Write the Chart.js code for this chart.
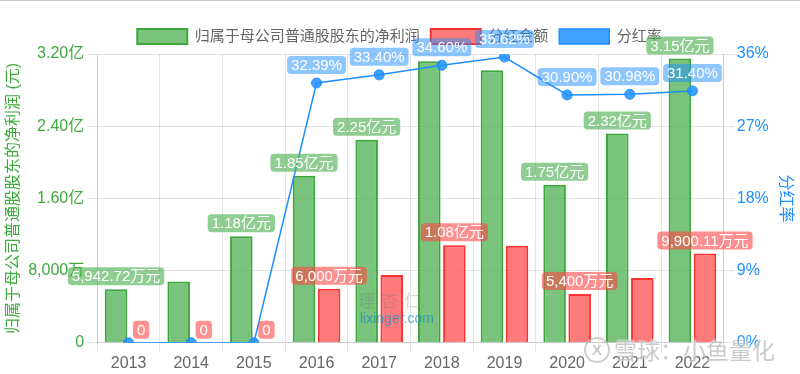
<!DOCTYPE html>
<html>
<head>
<meta charset="utf-8">
<script src="https://cdn.jsdelivr.net/npm/chart.js@4.4.0/dist/chart.umd.min.js"></script>
<style>
  html, body { margin: 0; padding: 0; background: #fff; }
  #wrap { position: relative; width: 800px; height: 373px; border-top: 1px solid #c8c8c8; }
  .wm { position: absolute; font-family: "Noto Sans CJK SC", sans-serif; pointer-events: none; white-space: nowrap; }
  .xq-icon { position: absolute; left: 584px; top: 336px; width: 22px; height: 22px; border: 2px solid rgba(190,190,190,0.75);
             border-radius: 50%; color: rgba(190,190,190,0.85); font: bold 15px Arial, sans-serif; text-align: center; line-height: 22px; }
</style>
</head>
<body>
<div id="wrap">
  <canvas id="incomeChart" width="800" height="373"></canvas>
  <div class="wm" style="left:358px;top:286px;font-size:17px;color:rgba(110,110,110,0.28);letter-spacing:6px;">理杏仁</div>
  <div class="wm" style="left:360px;top:309px;font-size:14px;color:rgba(40,140,185,0.75);font-family:Arial,sans-serif;">lixinger.com</div>
  <div class="xq-icon">X</div>
  <div class="wm" style="left:614px;top:331px;font-size:23px;color:rgba(185,185,185,0.75);text-shadow:0 0 2px #fff;">雪球：小鱼量化</div>
</div>
<script>
const years = ['2013', '2014', '2015', '2016', '2017', '2018', '2019', '2020', '2021', '2022'];
// 归属于母公司普通股股东的净利润 (元)
const netProfit = [59427200, 68000000, 118000000, 185000000, 225000000, 312000000, 302000000, 175000000, 232000000, 315000000];
// 分红金额 (元)
const dividend = [0, 0, 0, 60000000, 75150000, 108000000, 107600000, 54000000, 71900000, 99001100];
// 分红率 (%)
const payoutRatio = [0, 0, 0, 32.39, 33.40, 34.60, 35.62, 30.90, 30.98, 31.40];

// which value labels survive the overlap filtering in the original
const showProfitLabel = [true, false, true, true, true, false, false, true, true, true];
const showDividendLabel = [true, true, true, true, false, true, false, true, false, true];
const showRatioLabel = [false, false, false, true, true, true, true, true, true, true];

const leftTicks = { max: 320000000, step: 80000000 };
const rightTicks = { max: 36, step: 9 };

const GREEN = 'rgb(62,170,62)';
const BLUE = 'rgb(30,144,255)';
const FONT = 'Arial, "Liberation Sans", "Noto Sans CJK SC", sans-serif';

const fmtMoney = v => {
    if (v === 0) return '0';
    if (v >= 1e8) return (v / 1e8).toFixed(2) + '亿元';
    return (v / 1e4).toLocaleString('en-US', { maximumFractionDigits: 2 }) + '万元';
};

const fmtAxis = v => {
    if (v === 0) return '0';
    if (v >= 1e8) return (v / 1e8).toFixed(2) + '亿';
    return (v / 1e4).toLocaleString('en-US') + '万';
};

// Draw the rounded value boxes (stand-in for chartjs-plugin-datalabels)
const valueLabels = {
    id: 'valueLabels',
    afterDatasetsDraw(chart) {
        const ctx = chart.ctx;
        const setups = [
            { idx: 0, show: showProfitLabel, text: fmtMoney, bg: 'rgba(76,175,80,0.62)', gap: 4 },
            { idx: 1, show: showDividendLabel, text: fmtMoney, bg: 'rgba(255,70,70,0.6)', gap: 4 },
            { idx: 2, show: showRatioLabel, text: v => v.toFixed(2) + '%', bg: 'rgba(30,144,255,0.5)', gap: 9 },
        ];
        ctx.save();
        ctx.font = '15px ' + FONT;
        ctx.textAlign = 'center';
        ctx.textBaseline = 'middle';
        setups.forEach(s => {
            const meta = chart.getDatasetMeta(s.idx);
            const values = chart.data.datasets[s.idx].data;
            meta.data.forEach((el, i) => {
                if (!s.show[i]) return;
                const label = s.text(values[i]);
                const w = ctx.measureText(label).width + 8;
                const h = 18;
                const bottom = el.y - s.gap;
                ctx.fillStyle = s.bg;
                ctx.beginPath();
                ctx.roundRect(el.x - w / 2, bottom - h, w, h, 4);
                ctx.fill();
                ctx.fillStyle = '#fff';
                ctx.fillText(label, el.x, bottom - h / 2 + 1);
            });
        });
        ctx.restore();
    }
};

new Chart(document.getElementById('incomeChart'), {
    type: 'bar',
    data: {
        labels: years,
        datasets: [
            {
                label: '归属于母公司普通股股东的净利润',
                data: netProfit,
                backgroundColor: 'rgba(76,175,80,0.75)',
                borderColor: 'rgb(60,168,60)',
                borderWidth: 2,
                yAxisID: 'y',
                order: 1,
            },
            {
                label: '分红金额',
                data: dividend,
                backgroundColor: 'rgba(255,90,90,0.8)',
                borderColor: 'rgb(255,50,50)',
                borderWidth: 2,
                yAxisID: 'y',
                order: 1,
            },
            {
                type: 'line',
                label: '分红率',
                data: payoutRatio,
                backgroundColor: 'rgba(30,144,255,0.85)',
                borderColor: BLUE,
                borderWidth: 1.5,
                pointRadius: 5,
                pointBorderWidth: 1,
                tension: 0,
                yAxisID: 'y1',
                order: 0,
            },
        ],
    },
    options: {
        responsive: false,
        animation: false,
        layout: { padding: { left: 0, right: 1, top: 17, bottom: 0 } },
        font: { family: FONT },
        plugins: {
            legend: {
                position: 'top',
                labels: {
                    boxWidth: 50,
                    boxHeight: 15,
                    padding: 11,
                    font: { size: 15, family: FONT },
                    color: '#666',
                    sort: (a, b) => a.datasetIndex - b.datasetIndex,
                },
            },
            tooltip: { enabled: false },
        },
        scales: {
            x: {
                grid: { color: 'rgba(0,0,0,0.1)', tickLength: 10 },
                ticks: { color: '#666', padding: 1, font: { size: 16, family: FONT } },
            },
            y: {
                position: 'left',
                min: 0,
                max: leftTicks.max,
                grid: { color: 'rgba(0,0,0,0.1)', tickLength: 10 },
                ticks: {
                    stepSize: leftTicks.step,
                    color: GREEN,
                    font: { size: 16, family: FONT },
                    callback: v => fmtAxis(v),
                },
                title: {
                    display: true,
                    text: '归属于母公司普通股股东的净利润 (元)',
                    color: GREEN,
                    padding: { top: 4, bottom: 2 },
                    font: { size: 16, family: FONT },
                },
            },
            y1: {
                position: 'right',
                min: 0,
                max: rightTicks.max,
                grid: { drawOnChartArea: false, color: 'rgba(0,0,0,0.1)', tickLength: 10 },
                ticks: {
                    stepSize: rightTicks.step,
                    color: BLUE,
                    font: { size: 16, family: FONT },
                    callback: v => v + '%',
                },
                title: {
                    display: true,
                    text: '分红率',
                    color: BLUE,
                    font: { size: 16, family: FONT },
                },
            },
        },
    },
    plugins: [valueLabels],
});
</script>
</body>
</html>
